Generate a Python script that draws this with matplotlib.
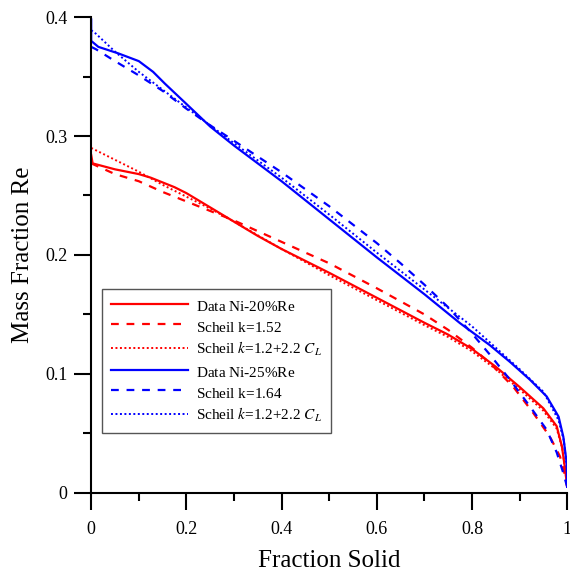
import matplotlib
matplotlib.use('Agg')
import matplotlib.pyplot as plt
from matplotlib.ticker import MultipleLocator, FuncFormatter

plt.rcParams['font.family'] = ['Liberation Serif', 'DejaVu Serif']
plt.rcParams['mathtext.fontset'] = 'stix'

# Ni-20%Re
fs_r_data = [0, 0.003, 0.05, 0.1, 0.125, 0.15, 0.175, 0.2, 0.25, 0.3, 0.35, 0.4, 0.5, 0.6, 0.7, 0.75, 0.8, 0.85, 0.9, 0.95, 0.978, 0.989, 0.996, 1.0]
c_r_data = [0.284, 0.277, 0.272, 0.268, 0.265, 0.261, 0.257, 0.252, 0.240, 0.228, 0.216, 0.205, 0.185, 0.164, 0.143, 0.133, 0.121, 0.106, 0.089, 0.071, 0.056, 0.039, 0.019, 0.005]

fs_r_k152 = [0, 0.05, 0.1, 0.15, 0.2, 0.25, 0.3, 0.4, 0.5, 0.6, 0.7, 0.75, 0.8, 0.838, 0.887, 0.929, 0.964, 0.985, 0.996, 1.0]
c_r_k152 = [0.277, 0.268, 0.262, 0.253, 0.245, 0.237, 0.229, 0.211, 0.193, 0.172, 0.150, 0.137, 0.122, 0.109, 0.089, 0.067, 0.047, 0.0305, 0.014, 0.005]

fs_r_kvar = [0, 0.05, 0.1, 0.15, 0.2, 0.25, 0.3, 0.4, 0.5, 0.6, 0.7, 0.75, 0.8, 0.85, 0.9, 0.95, 0.978, 0.99, 0.996, 1.0]
c_r_kvar = [0.290, 0.280, 0.270, 0.259, 0.249, 0.239, 0.228, 0.205, 0.183, 0.162, 0.141, 0.131, 0.119, 0.104, 0.087, 0.069, 0.054, 0.037, 0.019, 0.005]

# Ni-25%Re
fs_b_data = [0, 0, 0.015, 0.057, 0.1, 0.13, 0.155, 0.2, 0.25, 0.3, 0.4, 0.5, 0.6, 0.7, 0.775, 0.838, 0.88, 0.922, 0.957, 0.982, 0.992, 0.999, 1.0]
c_b_data = [0.398, 0.380, 0.375, 0.3695, 0.363, 0.354, 0.344, 0.327, 0.308, 0.292, 0.262, 0.230, 0.198, 0.167, 0.1426, 0.124, 0.110, 0.095, 0.081, 0.064, 0.047, 0.025, 0.005]

fs_b_k164 = [0, 0.01, 0.05, 0.1, 0.15, 0.2, 0.25, 0.3, 0.4, 0.5, 0.6, 0.65, 0.7, 0.75, 0.8, 0.838, 0.88, 0.922, 0.957, 0.978, 0.992, 1.0]
c_b_k164 = [0.375, 0.373, 0.363, 0.351, 0.338, 0.323, 0.309, 0.296, 0.2695, 0.241, 0.210, 0.193, 0.175, 0.156, 0.134, 0.116, 0.095, 0.0725, 0.053, 0.034, 0.0165, 0.005]

fs_b_kvar = [0, 0.01, 0.05, 0.1, 0.15, 0.2, 0.25, 0.3, 0.4, 0.5, 0.6, 0.7, 0.8, 0.85, 0.9, 0.95, 0.982, 0.993, 0.999, 1.0]
c_b_kvar = [0.389, 0.386, 0.371, 0.354, 0.339, 0.324, 0.309, 0.294, 0.265, 0.234, 0.202, 0.171, 0.140, 0.122, 0.104, 0.085, 0.061, 0.044, 0.022, 0.005]

fig = plt.figure(figsize=(5.70, 5.71), dpi=100)
ax = fig.add_axes([0.160, 0.137, 0.835, 0.833])

red = '#ff0000'
blue = '#0000ff'
dash = (0, (3.5, 3.5))
dot = (0, (1, 1.3))
pad = r'$_{\,}$'  # keeps legend rows the same height as the C_L rows

ax.plot(fs_r_data, c_r_data, color=red, lw=1.6, label='Data Ni-20%Re' + pad)
ax.plot(fs_r_k152, c_r_k152, color=red, lw=1.6, linestyle=dash, label='Scheil k=1.52' + pad)
ax.plot(fs_r_kvar, c_r_kvar, color=red, lw=1.4, linestyle=dot, label='Scheil $k$=1.2+2.2 $C_L$')
ax.plot(fs_b_data, c_b_data, color=blue, lw=1.6, label='Data Ni-25%Re' + pad)
ax.plot(fs_b_k164, c_b_k164, color=blue, lw=1.6, linestyle=dash, label='Scheil k=1.64' + pad)
ax.plot(fs_b_kvar, c_b_kvar, color=blue, lw=1.4, linestyle=dot, label='Scheil $k$=1.2+2.2 $C_L$')

ax.set_xlim(0, 1)
ax.set_ylim(0, 0.4)
for s in ['top', 'right']:
    ax.spines[s].set_visible(False)
for s in ['left', 'bottom']:
    ax.spines[s].set_linewidth(1.5)

ax.xaxis.set_major_locator(MultipleLocator(0.2))
ax.xaxis.set_minor_locator(MultipleLocator(0.1))
ax.yaxis.set_major_locator(MultipleLocator(0.1))
ax.yaxis.set_minor_locator(MultipleLocator(0.05))
fmt = FuncFormatter(lambda v, p: '%g' % round(v, 3))
ax.xaxis.set_major_formatter(fmt)
ax.yaxis.set_major_formatter(fmt)
ax.tick_params(which='major', direction='out', length=12, width=1.5, labelsize=13)
ax.tick_params(axis='x', which='major', pad=8)
ax.tick_params(axis='y', which='major', pad=5)
ax.tick_params(which='minor', direction='out', length=6, width=1.5)

ax.set_xlabel('Fraction Solid', fontsize=18, labelpad=9)
ax.set_ylabel('Mass Fraction Re', fontsize=18, labelpad=8)

leg = ax.legend(loc='lower left', bbox_to_anchor=(0.023, 0.126), fontsize=11,
                handlelength=5.0, handletextpad=0.55, labelspacing=0.45,
                fancybox=False, framealpha=1, borderpad=0.6, borderaxespad=0)
leg.get_frame().set_edgecolor('#555555')
leg.get_frame().set_linewidth(1.0)

fig.savefig('out.png', dpi=100)
